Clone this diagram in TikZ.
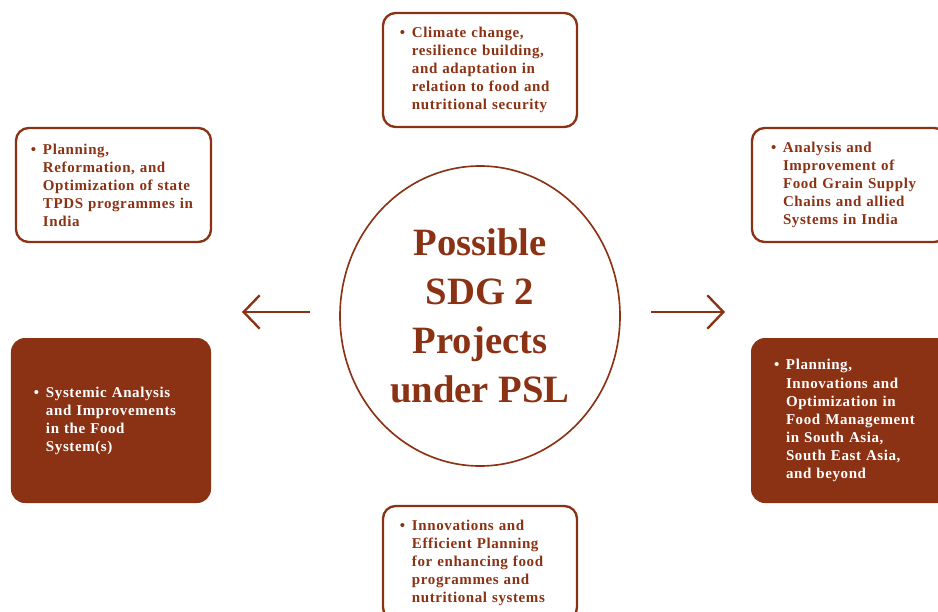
\documentclass[tikz,border=0pt]{standalone}
\usepackage{fontspec}
\setmainfont{Liberation Serif}
\newfontfamily\boxfont{Liberation Serif}[LetterSpace=4]
\usepackage{xcolor}
\usepackage{tikz}
\usetikzlibrary{arrows.meta, shapes.geometric}
\definecolor{pslbrown}{RGB}{140,50,20}
\newcommand{\pslitem}[1]{\makebox[0.36cm][l]{\textbullet}\parbox[t]{\dimexpr\linewidth-0.36cm\relax}{\raggedright #1}}

\begin{document}
\begin{tikzpicture}[
    x=0.03cm, y=-0.03cm,
    outbox/.style={rectangle, rounded corners=0.38cm, draw=pslbrown, line width=2pt, fill=white, text=pslbrown, inner xsep=0pt, minimum height=3.42cm, align=left, font=\boxfont\bfseries\fontsize{12.8}{15.4}\selectfont},
    fullbox/.style={rectangle, rounded corners=0.42cm, fill=pslbrown, text=white, inner xsep=0pt, minimum width=6cm, minimum height=4.95cm, text width=4.62cm, align=left, font=\boxfont\bfseries\fontsize{12.8}{15.4}\selectfont},
    hub/.style={ellipse, draw=pslbrown, line width=1.4pt, fill=white, minimum width=8.4cm, minimum height=9cm, inner sep=0pt, align=center, text=pslbrown, font=\bfseries\fontsize{33}{42}\selectfont},
    arrow/.style={-{Straight Barb[length=4.8mm, width=10mm]}, draw=pslbrown, line width=2pt}
]
    \useasboundingbox (0,0) rectangle (938,612);
    \clip (0,0) rectangle (938,612);

    % Centre
    \node[hub] (hub) at (480,316) {Possible\\SDG 2\\Projects\\under PSL};

    % Outlined boxes
    \node[outbox, minimum width=5.82cm, text width=4.8cm] (climate) at (480,70)
        {\pslitem{Climate change,\\ resilience building,\\ and adaptation in\\ relation to food and\\ nutritional security}};
    \node[outbox, minimum width=5.85cm, text width=4.95cm] (tpds) at (113.5,185)
        {\pslitem{Planning,\\ Reformation, and\\ Optimization of state\\ TPDS programmes in\\ India}};
    \node[outbox, minimum width=5.85cm, text width=4.71cm] (supply) at (849.5,185)
        {\pslitem{Analysis and\\ Improvement of\\ Food Grain Supply\\ Chains and allied\\ Systems in India}};
    \node[outbox, minimum width=5.82cm, text width=4.8cm] (efficient) at (480,563)
        {\pslitem{Innovations and\\ Efficient Planning\\ for enhancing food\\ programmes and\\ nutritional systems}};

    % Filled boxes
    \node[fullbox] (systemic) at (111,420.5)
        {\pslitem{Systemic Analysis\\ and Improvements\\ in the Food\\ System(s)}};
    \node[fullbox] (asia) at (851,420.5)
        {\pslitem{Planning,\\ Innovations and\\ Optimization in\\ Food Management\\ in South Asia,\\ South East Asia,\\ and beyond}};

    % Arrows
    \coordinate (lfrom) at (310,312);
    \coordinate (lto) at (242,312);
    \coordinate (rfrom) at (651,312);
    \coordinate (rto) at (725,312);
    \draw[arrow] (lfrom) -- (lto);
    \draw[arrow] (rfrom) -- (rto);
\end{tikzpicture}
\end{document}
